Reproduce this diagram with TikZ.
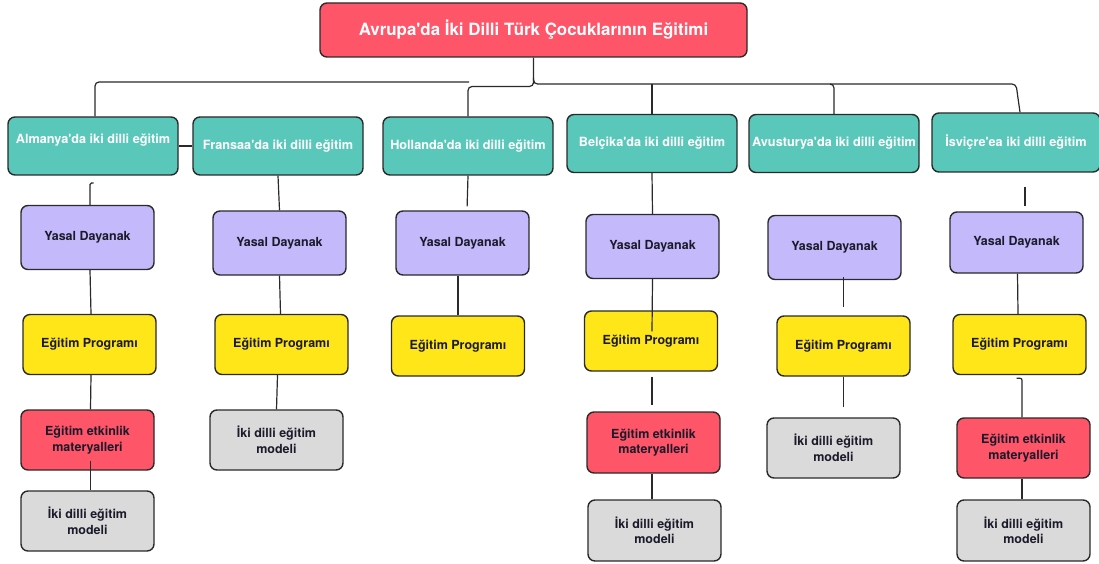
\documentclass[tikz,border=0pt]{standalone}
\usepackage{fontspec}
\setmainfont{TeX Gyre Heros}[Ligatures=TeXOff]
\usetikzlibrary{calc}
\definecolor{cred}{HTML}{FF5569}
\definecolor{cteal}{HTML}{59C7BA}
\definecolor{cpurple}{HTML}{C4BAFB}
\definecolor{cyellow}{HTML}{FFE619}
\definecolor{cgray}{HTML}{DADADA}
\definecolor{cline}{HTML}{2A2A2A}
\definecolor{ctext}{HTML}{1A1A2A}
\tikzset{
  box/.style={draw=cline, line width=1.4pt, rounded corners=7pt, align=center, font=\bfseries\fontsize{12.5}{15.5}\selectfont, text=ctext, inner sep=2pt},
  topbox/.style={box, fill=cred, text=white, minimum width=427pt, minimum height=54pt, font=\bfseries\fontsize{16.9}{19}\selectfont},
  lvlone/.style={box, fill=cteal, text=white, minimum width=170pt, minimum height=58pt, font=\bfseries\fontsize{12.7}{15}\selectfont},
  yasal/.style={box, fill=cpurple, minimum width=133pt, minimum height=64pt},
  prog/.style={box, fill=cyellow, minimum width=133pt, minimum height=60pt},
  mater/.style={box, fill=cred, minimum width=133pt, minimum height=60pt},
  model/.style={box, fill=cgray, minimum width=133pt, minimum height=60pt},
  conn/.style={draw=cline, line width=1.2pt},
}
\begin{document}
\begin{tikzpicture}[x=1pt,y=-1pt]
\useasboundingbox (0,0) rectangle (1099,564);
\fill[white] (0,0) rectangle (1099,564);
% top
\node[topbox] (top) at (533.5,30) {Avrupa'da İki Dilli Türk Çocuklarının Eğitimi};
% level 1
\node[lvlone, text depth=14pt] (alm1) at (93,146) {Almanya'da iki dilli eğitim};
\node[lvlone] (fra1) at (278,146) {Fransaa'da iki dilli eğitim};
\node[lvlone] (hol1) at (468,146) {Hollanda'da iki dilli eğitim};
\node[lvlone] (bel1) at (652,143.5) {Belçika'da iki dilli eğitim};
\node[lvlone] (avu1) at (834,143.5) {Avusturya'da iki dilli eğitim};
\node[lvlone, minimum width=168pt, minimum height=59pt] (isv1) at (1016,142.5) {İsviçre'ea iki dilli eğitim};
% level 2
\node[yasal] (alm2) at (87.5,237.5) {Yasal Dayanak};
\node[yasal] (fra2) at (279.5,243) {Yasal Dayanak};
\node[yasal] (hol2) at (462.5,243) {Yasal Dayanak};
\node[yasal] (bel2) at (652.5,246.5) {Yasal Dayanak};
\node[yasal] (avu2) at (834.5,247.5) {Yasal Dayanak};
\node[yasal, minimum height=61pt] (isv2) at (1016.5,242.5) {Yasal Dayanak};
% level 3
\node[prog] (alm3) at (89.5,344.5) {Eğitim Programı};
\node[prog] (fra3) at (281.5,344.5) {Eğitim Programı};
\node[prog] (hol3) at (458,346) {Eğitim Programı};
\node[prog] (bel3) at (651,341) {Eğitim Programı};
\node[prog] (avu3) at (843.5,346) {Eğitim Programı};
\node[prog] (isv3) at (1019.5,344.5) {Eğitim Programı};
% level 4
\node[mater] (alm4) at (87.5,440) {Eğitim etkinlik\\materyalleri};
\node[model] (fra4) at (276.5,440) {İki dilli eğitim\\modeli};
\node[mater, minimum height=61pt] (bel4) at (653.5,442.5) {Eğitim etkinlik\\materyalleri};
\node[model] (avu4) at (833.5,448) {İki dilli eğitim\\modeli};
\node[mater] (isv4) at (1023.5,448) {Eğitim etkinlik\\materyalleri};
% level 5
\node[model] (alm5) at (87.5,521) {İki dilli eğitim\\modeli};
\node[model, minimum height=61pt] (bel5) at (654.5,530.5) {İki dilli eğitim\\modeli};
\node[model, minimum height=61pt] (isv5) at (1023.5,530.5) {İki dilli eğitim\\modeli};
% trunk connectors
\coordinate (j) at (533.5,84);
\coordinate (jl) at (533.5,86.5);
\coordinate (le) at (469,82);
\draw[conn, rounded corners=4pt] (top.south) |- (isv1.north |- j) -- ([xshift=4pt]isv1.north);
\draw[conn, rounded corners=4pt] (j -| bel1.north) -- (bel1.north);
\draw[conn, rounded corners=4pt] ($(avu1.north |- j)+(-4,0)$) -| (avu1.north);
\draw[conn, rounded corners=4pt] ($(j)+(0,-6)$) |- (jl) -| (hol1.north);
\draw[conn, rounded corners=4pt] ([xshift=2pt]alm1.north) |- (le);
\draw[conn] (alm1.east) -- (fra1.west);
% Almanya column
\coordinate (ah) at (93.5,183);
\draw[conn, rounded corners=1.5pt] (ah) -| ([xshift=2.5pt]alm2.north);
\draw[conn] ([xshift=2.5pt]alm2.south) -- ([xshift=1.5pt]alm3.north);
\draw[conn] ([xshift=1.5pt]alm3.south) -- ([xshift=3pt]alm4.north);
\draw[conn] ($(alm4.south)+(3,-10)$) -- ([xshift=3pt]alm5.north);
% Fransa column
\draw[conn] (fra1.south) -- (fra2.north);
\draw[conn] (fra2.south) -- ([xshift=-1pt]fra3.north);
\draw[conn] ([xshift=-4pt]fra3.south) -- (fra4.north);
% Hollanda column
\draw[conn, shorten >=4pt] (hol1.south) -- ([xshift=4.5pt]hol2.north);
\draw[conn] ([xshift=-4.5pt]hol2.south) -- (hol3.north);
% Belçika column
\draw[conn] (bel1.south) -- (bel2.north);
\draw[conn] (bel2.south) -- ($(bel3.north)+(1,21)$);
\draw[conn, shorten <=5pt, shorten >=6pt] ([xshift=1pt]bel3.south) -- ([xshift=-1.5pt]bel4.north);
\draw[conn] ([xshift=-1.5pt]bel4.south) -- ([xshift=-2.5pt]bel5.north);
% Avusturya column
\draw[conn, shorten <=-3pt, shorten >=8pt] (avu3.north |- avu2.south) -- (avu3.north);
\draw[conn, shorten >=10pt] (avu3.south) -- (avu3.south |- avu4.north);
% Isvicre column
\draw[conn, shorten <=14pt, shorten >=5pt] ([xshift=9pt]isv1.south) -- ([xshift=9pt]isv1.south |- isv2.north);
\draw[conn] ([xshift=1pt]isv2.south) -- ([xshift=-1.5pt]isv3.north);
\draw[conn, rounded corners=2pt] ([xshift=-3pt,yshift=-3pt]isv3.south) -| ([xshift=-1.5pt]isv4.north);
\draw[conn] ([xshift=-1.5pt]isv4.south) -- ([xshift=-1.5pt]isv5.north);
\end{tikzpicture}
\end{document}
